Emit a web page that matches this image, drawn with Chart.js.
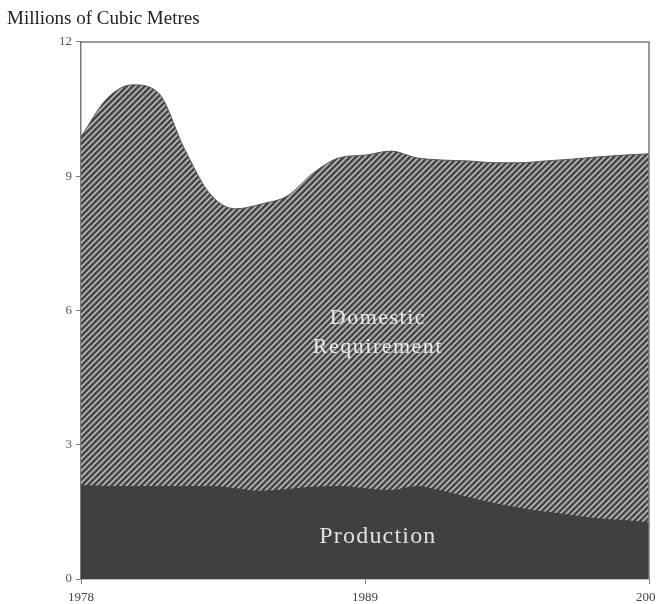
<!DOCTYPE html>
<html>
<head>
<meta charset="utf-8">
<title>Domestic Requirement and Production</title>
<script src="https://cdn.jsdelivr.net/npm/chart.js@4.4.0/dist/chart.umd.min.js"></script>
<style>
html, body { margin: 0; padding: 0; background: #fff; overflow: hidden; }
#wrap { width: 672px; height: 604px; }
</style>
</head>
<body>
<div id="wrap"><canvas id="gasChart" width="672" height="604"></canvas></div>
<script>
// values, millions of cubic metres
years = [1978, 1979, 1980, 1981, 1982, 1983, 1984, 1985, 1986, 1987, 1988, 1989,
         1990, 1991, 1992, 1993, 1994, 1995, 1996, 1997, 1998, 1999, 2000];

domestic = [9.88, 10.73, 11.04, 10.86, 9.62, 8.60, 8.27, 8.38, 8.56, 9.07, 9.41, 9.47,
            9.56, 9.41, 9.36, 9.34, 9.30, 9.30, 9.34, 9.38, 9.43, 9.47, 9.50];

production = [2.10, 2.08, 2.08, 2.08, 2.08, 2.08, 2.03, 1.97, 2.01, 2.06, 2.08, 2.03,
              1.99, 2.08, 1.97, 1.83, 1.70, 1.59, 1.50, 1.43, 1.36, 1.32, 1.27];

yearTicks = [1978, 1989, 2000];
valueTicks = [0, 3, 6, 9, 12];

// hatch for the domestic requirement area
function makeHatch() {
    var c = document.createElement("canvas");
    c.width = 6;
    c.height = 6;
    var g = c.getContext("2d");
    g.fillStyle = "#444444";
    g.fillRect(0, 0, 6, 6);
    g.strokeStyle = "#b4b4b4";
    g.lineWidth = 1.8;
    g.beginPath();
    g.moveTo(-3, 3); g.lineTo(3, -3);
    g.moveTo(0, 6); g.lineTo(6, 0);
    g.moveTo(3, 9); g.lineTo(9, 3);
    g.stroke();
    return g.createPattern(c, "repeat");
}

var domPoints = [];
var prodPoints = [];
for (var i = 0; i < years.length; i++) {
    domPoints.push({x: years[i], y: domestic[i]});
    prodPoints.push({x: years[i], y: production[i]});
}

// frame on top/right plus the area labels
var extras = {
    id: "extras",
    afterDatasetsDraw: function(chart) {
        var ctx = chart.ctx;
        var a = chart.chartArea;
        var xs = chart.scales.x, ys = chart.scales.y;
        ctx.save();
        ctx.strokeStyle = "#7a7a7a";
        ctx.lineWidth = 1.5;
        ctx.beginPath();
        ctx.moveTo(a.left, a.top);
        ctx.lineTo(a.right, a.top);
        ctx.lineTo(a.right, a.bottom);
        ctx.stroke();

        ctx.textAlign = "center";
        ctx.textBaseline = "alphabetic";
        ctx.fillStyle = "#e8e8e8";
        ctx.font = "22px 'Liberation Serif'";
        ctx.letterSpacing = "1.5px";
        var cx = xs.getPixelForValue(1989.5);
        ctx.fillText("Domestic", cx, ys.getPixelForValue(5.7));
        ctx.fillText("Requirement", cx, ys.getPixelForValue(5.05));
        ctx.fillStyle = "#e0e0e0";
        ctx.font = "24px 'Liberation Serif'";
        ctx.letterSpacing = "1.2px";
        ctx.fillText("Production", cx, ys.getPixelForValue(0.81));
        ctx.restore();
    }
};

new Chart("gasChart", {
    type: "line",
    data: {
        datasets: [
            {
                label: "Production",
                data: prodPoints,
                backgroundColor: "#404040",
                borderColor: "#404040",
                borderWidth: 0,
                pointRadius: 0,
                fill: "origin",
                cubicInterpolationMode: "monotone"
            },
            {
                label: "Domestic Requirement",
                data: domPoints,
                backgroundColor: makeHatch(),
                borderColor: "#555555",
                borderWidth: 1,
                pointRadius: 0,
                fill: "origin",
                cubicInterpolationMode: "monotone"
            }
        ]
    },
    options: {
        responsive: false,
        animation: false,
        layout: { padding: { left: 7, right: 23, top: 2, bottom: 0 } },
        plugins: {
            legend: { display: false },
            tooltip: { enabled: false },
            title: {
                display: true,
                text: "Millions of Cubic Metres",
                align: "start",
                color: "#222",
                font: { family: "'Liberation Serif'", size: 19, weight: "normal", lineHeight: 1.1 },
                padding: { top: 7, bottom: 12 }
            }
        },
        scales: {
            x: {
                type: "linear",
                min: 1978,
                max: 2000,
                afterBuildTicks: function(s) { s.ticks = yearTicks.map(function(v) { return {value: v}; }); },
                afterFit: function(s) { s.height = 25; },
                ticks: {
                    color: "#444",
                    font: { family: "'Liberation Serif'", size: 13 },
                    maxRotation: 0,
                    padding: 6,
                    callback: function(v) { return String(v); }
                },
                grid: { drawOnChartArea: false, drawTicks: true, tickLength: 5, color: "#7a7a7a" },
                border: { display: true, color: "#7a7a7a", width: 1.5 }
            },
            y: {
                min: 0,
                max: 12,
                afterBuildTicks: function(s) { s.ticks = valueTicks.map(function(v) { return {value: v}; }); },
                afterFit: function(s) { s.width = 74; },
                ticks: {
                    color: "#555",
                    font: { family: "'Liberation Serif'", size: 13 },
                    padding: 4
                },
                grid: { drawOnChartArea: false, drawTicks: true, tickLength: 5, color: "#7a7a7a" },
                border: { display: true, color: "#7a7a7a", width: 1.5 }
            }
        }
    },
    plugins: [extras]
});
</script>
</body>
</html>
